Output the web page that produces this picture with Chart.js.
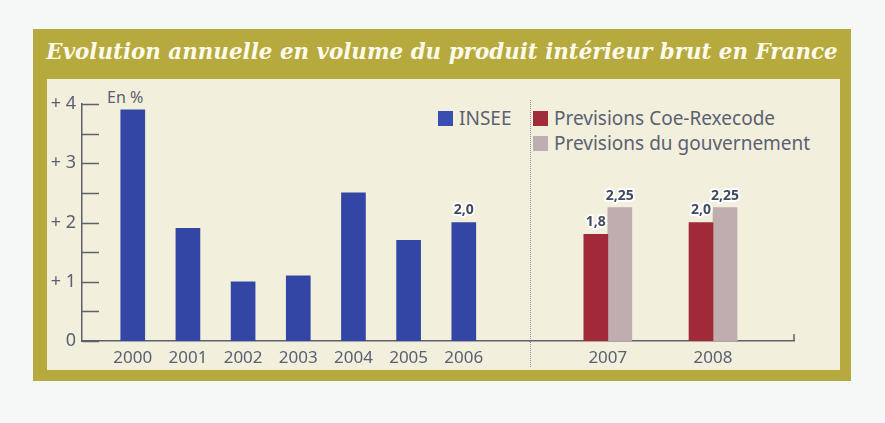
<!DOCTYPE html>
<html>
<head>
<meta charset="utf-8">
<script src="https://cdn.jsdelivr.net/npm/chart.js@4.4.0/dist/chart.umd.min.js"></script>
<style>
  body { margin: 0; width: 885px; height: 423px; background: #f6f7f7; position: relative; overflow: hidden; font-family: "Noto Sans", sans-serif; }
  #frame { position: absolute; left: 33px; top: 29px; width: 818px; height: 352px; background: #b6a93e; }
  #panel { position: absolute; left: 47px; top: 79px; width: 793px; height: 291px; background: #f2efdc; }
  #title { position: absolute; left: 33px; top: 29px; width: 818px; height: 50px; line-height: 46px; text-align: center;
           color: #fdfaea; font-family: "DejaVu Serif", serif; font-style: italic; font-weight: bold; font-size: 22px; white-space: nowrap; }
  #divider { position: absolute; left: 530px; top: 100px; height: 267px; border-left: 1px dotted #8b8f99; }
  canvas { position: absolute; left: 0; top: 0; }
  .leg { position: absolute; font-size: 19px; color: #5b6172; white-space: nowrap; line-height: 20px; }
  .leg i { display: inline-block; width: 15px; height: 15px; margin-right: 6px; vertical-align: -1px; }
  #unit { position: absolute; left: 107px; top: 86px; font-size: 16px; color: #5b6172; }
</style>
</head>
<body>
<div id="frame"></div>
<div id="panel"></div>
<div id="title"><span id="titleText">Evolution annuelle en volume du produit intérieur brut en France</span></div>
<div id="divider"></div>
<div id="unit">En %</div>
<div class="leg" style="left:438px;top:108px"><i style="background:#3a4db0"></i>INSEE</div>
<div class="leg" style="left:533px;top:108px"><i style="background:#a12c3a"></i>Previsions Coe-Rexecode</div>
<div class="leg" style="left:533px;top:133px"><i style="background:#bfaeb1"></i>Previsions du gouvernement</div>
<canvas id="leftChart" width="885" height="423"></canvas>
<canvas id="rightChart" width="885" height="423"></canvas>
<script>
// Croissance du PIB en volume, en %
const years = [2000, 2001, 2002, 2003, 2004, 2005, 2006];
const insee = [3.9, 1.9, 1.0, 1.1, 2.5, 1.7, 2.0];

const forecastYears = [2007, 2008];
const coeRexecode = [1.8, 2.0];
const gouvernement = [2.25, 2.25];

const yTickLabels = ['0', '+ 1', '+ 2', '+ 3', '+ 4'];

const textColor = '#5b6172';
const axisColor = '#5d616b';

// fit the title into the olive band
(function fitTitle() {
  const span = document.getElementById('titleText');
  const w = span.getBoundingClientRect().width;
  const size = 22 * 792 / w;
  document.getElementById('title').style.fontSize = size + 'px';
})();

// petits traits de graduation tournés vers l'intérieur
const inwardTicks = {
  id: 'inwardTicks',
  afterDraw(chart) {
    const y = chart.scales.y;
    const { ctx, chartArea } = chart;
    ctx.save();
    ctx.strokeStyle = axisColor;
    ctx.lineWidth = 1.5;
    y.ticks.forEach(t => {
      const py = Math.round(y.getPixelForValue(t.value)) + 0.5;
      ctx.beginPath();
      ctx.moveTo(chartArea.left, py);
      ctx.lineTo(chartArea.left + 17, py);
      ctx.stroke();
    });
    ctx.restore();
  }
};

// trait vertical en bout d'axe
const endTick = {
  id: 'endTick',
  afterDraw(chart) {
    const { ctx, chartArea } = chart;
    ctx.save();
    ctx.strokeStyle = axisColor;
    ctx.lineWidth = 1.5;
    ctx.beginPath();
    ctx.moveTo(chartArea.right, chartArea.bottom);
    ctx.lineTo(chartArea.right, chartArea.bottom - 7);
    ctx.stroke();
    ctx.restore();
  }
};

// valeurs au-dessus des barres
const valueLabels = {
  id: 'valueLabels',
  afterDatasetsDraw(chart) {
    const { ctx } = chart;
    ctx.save();
    ctx.font = 'bold 14px "Noto Sans"';
    ctx.textAlign = 'center';
    ctx.textBaseline = 'middle';
    ctx.lineJoin = 'round';
    chart.data.datasets.forEach((ds, i) => {
      if (ds.labelFrom === undefined) return;
      chart.getDatasetMeta(i).data.forEach((bar, j) => {
        const v = ds.data[j];
        if (j < ds.labelFrom || v == null) return;
        const txt = (Number.isInteger(v * 10) ? v.toFixed(1) : v.toFixed(2)).replace('.', ',');
        ctx.strokeStyle = '#ffffff';
        ctx.lineWidth = 4;
        ctx.strokeText(txt, bar.x, bar.y - 12);
        ctx.fillStyle = '#414b5f';
        ctx.fillText(txt, bar.x, bar.y - 12);
      });
    });
    ctx.restore();
  }
};

const tickFont = { family: '"Noto Sans", sans-serif', size: 17 };

function yScale(show) {
  const s = {
    display: show,
    min: 0,
    max: 4,
    grid: { display: false, drawTicks: false },
    border: { color: axisColor, width: 1.5 },
    ticks: {
      stepSize: 0.5,
      color: textColor,
      font: { family: '"Noto Sans", sans-serif', size: 18 },
      padding: 6,
      callback: v => Number.isInteger(v) ? yTickLabels[v] : ''
    }
  };
  if (show) s.afterFit = sc => { sc.width = 40; };
  return s;
}

function xScale(min, max, labels) {
  return {
    type: 'linear',
    offset: false,
    min: min,
    max: max,
    grid: { display: false, drawTicks: false },
    border: { color: axisColor, width: 1.5 },
    ticks: {
      stepSize: 1,
      includeBounds: false,
      autoSkip: false,
      maxRotation: 0,
      color: textColor,
      font: tickFont,
      padding: 7,
      callback: v => labels.includes(v) ? String(v) : ''
    },
    afterFit: s => { s.height = 30; }
  };
}

new Chart(document.getElementById('leftChart'), {
  type: 'bar',
  data: {
    labels: years,
    datasets: [{
      label: 'INSEE',
      data: insee,
      backgroundColor: '#3346a6',
      barThickness: 24,
      labelFrom: 6
    }]
  },
  options: {
    responsive: false,
    animation: false,
    layout: { padding: { left: 42, right: 355, top: 104, bottom: 52 } },
    plugins: { legend: { display: false }, tooltip: { enabled: false } },
    scales: {
      x: xScale(1999.08, 2007.2, years),
      y: yScale(true)
    }
  },
  plugins: [inwardTicks, valueLabels]
});

new Chart(document.getElementById('rightChart'), {
  type: 'bar',
  data: {
    labels: forecastYears,
    datasets: [{
      label: 'Previsions Coe-Rexecode',
      data: coeRexecode,
      backgroundColor: '#a02a38',
      barThickness: 24,
      labelFrom: 0
    }, {
      label: 'Previsions du gouvernement',
      data: gouvernement,
      backgroundColor: '#bfadb0',
      barThickness: 24,
      labelFrom: 0
    }]
  },
  options: {
    responsive: false,
    animation: false,
    layout: { padding: { left: 530, right: 91, top: 104, bottom: 52 } },
    plugins: { legend: { display: false }, tooltip: { enabled: false } },
    scales: {
      x: xScale(2006.26, 2008.77, forecastYears),
      y: yScale(false)
    }
  },
  plugins: [endTick, valueLabels]
});
</script>
</body>
</html>
